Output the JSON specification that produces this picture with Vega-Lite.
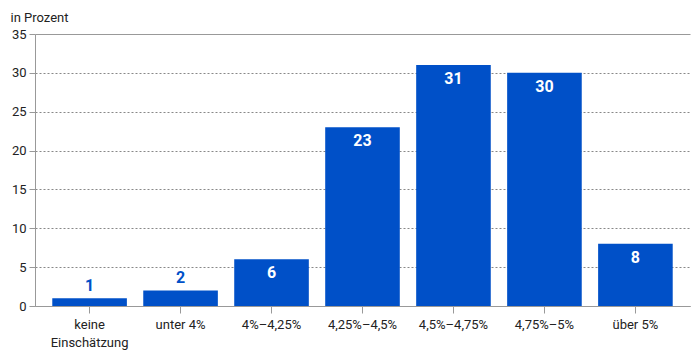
{
  "$schema": "https://vega.github.io/schema/vega-lite/v6.json",
  "autosize": "none",
  "width": 655,
  "height": 272,
  "padding": {"left": 35, "top": 34, "right": 10, "bottom": 50},
  "background": "white",
  "config": {
    "font": "Roboto",
    "view": {"stroke": null}
  },
  "data": {
    "values": [
      {"kategorie": "keine Einschätzung", "wert": 1},
      {"kategorie": "unter 4%", "wert": 2},
      {"kategorie": "4%–4,25%", "wert": 6},
      {"kategorie": "4,25%–4,5%", "wert": 23},
      {"kategorie": "4,5%–4,75%", "wert": 31},
      {"kategorie": "4,75%–5%", "wert": 30},
      {"kategorie": "über 5%", "wert": 8}
    ]
  },
  "encoding": {
    "x": {
      "field": "kategorie",
      "type": "nominal",
      "sort": null,
      "scale": {"paddingInner": 0.18, "paddingOuter": 0.19},
      "axis": {
        "title": null,
        "labelAngle": 0,
        "labelFontSize": 13,
        "labelColor": "#222",
        "labelPadding": 5,
        "labelLineHeight": 18,
        "labelExpr": "datum.value == 'keine Einschätzung' ? ['keine', 'Einschätzung'] : datum.value",
        "domainColor": "#999",
        "tickColor": "#999",
        "tickSize": 7,
        "grid": false
      }
    },
    "y": {
      "field": "wert",
      "type": "quantitative",
      "scale": {"domain": [0, 35]},
      "axis": {
        "title": "in Prozent",
        "titleAngle": 0,
        "titleAlign": "left",
        "titleBaseline": "alphabetic",
        "titleX": -25,
        "titleY": -13,
        "titleFontSize": 13,
        "titleFontWeight": "normal",
        "titleColor": "#222",
        "values": [0, 5, 10, 15, 20, 25, 30, 35],
        "labelFontSize": 13,
        "labelColor": "#222",
        "labelPadding": 3,
        "domainColor": "#999",
        "tickColor": "#999",
        "tickSize": 6,
        "gridColor": {"condition": {"test": "datum.value === 35", "value": "#999"}, "value": "#888"},
        "gridDash": {"condition": {"test": "datum.value === 35 || datum.value === 0", "value": []}, "value": [2, 2]},
        "gridWidth": 1
      }
    }
  },
  "layer": [
    {"mark": {"type": "bar", "color": "#0050c8"}},
    {
      "transform": [{"filter": "datum.wert >= 5"}],
      "mark": {"type": "text", "baseline": "top", "dy": 6, "fontSize": 16, "fontWeight": "bold", "color": "white"},
      "encoding": {"text": {"field": "wert", "type": "quantitative"}}
    },
    {
      "transform": [{"filter": "datum.wert < 5"}],
      "mark": {"type": "text", "baseline": "bottom", "dy": -4, "fontSize": 16, "fontWeight": "bold", "color": "#0050c8"},
      "encoding": {"text": {"field": "wert", "type": "quantitative"}}
    }
  ]
}
